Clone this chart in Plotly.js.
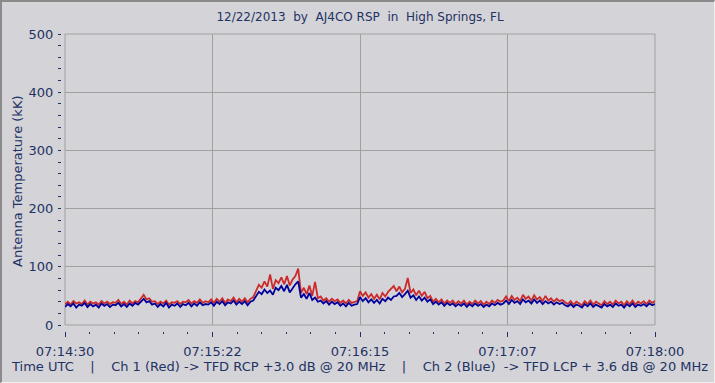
<!DOCTYPE html>
<html>
<head>
<meta charset="utf-8">
<script src="https://cdn.plot.ly/plotly-3.0.1.min.js"></script>
<style>
html,body{margin:0;padding:0;background:#D4D3D7;overflow:hidden;}
#frame{position:absolute;left:0;top:0;width:715px;height:383px;box-sizing:border-box;border-top:2px solid #8A8A8A;border-left:2px solid #8A8A8A;border-bottom:1px solid #F0F0F0;border-right:1px solid #F0F0F0;pointer-events:none;z-index:10;}
#chart{position:absolute;left:0;top:0;width:715px;height:383px;}
</style>
</head>
<body>
<div id="chart"></div>
<div id="frame"></div>
<script>
// Time axis: seconds after 07:14:30 UTC (one sample per second, 0..210)
var tickSeconds = [0, 52.5, 105, 157.5, 210];
var tickLabels = ["07:14:30", "07:15:22", "07:16:15", "07:17:07", "07:18:00"];

// Ch 1 (Red) antenna temperature, kK
var ch1Red = [
36,40,35,41,37,39,36,42,35,40,37,39,35,41,37,40,36,39,38,43,36,40,35,42,37,41,39,45,
52,44,46,40,41,
36,40,37,42,35,39,38,41,36,40,39,43,37,41,38,44,38,41,
39,44,38,45,40,46,38,44,41,47,39,45,40,46,39,45,48,
60,69,64,75,66,87,62,77,
72,82,70,84,68,78,84,97,
55,64,53,68,50,74,46,
49,42,46,40,45,41,44,38,42,37,43,38,40,
41,58,50,56,47,53,45,52,44,55,49,57,62,67,
58,66,56,62,81,
55,61,51,59,50,57,46,50,
40,45,39,44,37,42,38,42,36,41,37,42,35,40,36,42,37,41,35,40,36,42,38,43,40,
42,49,41,50,43,47,41,52,45,49,42,51,44,48,41,50,42,46,40,45,41,43,39,
36,41,35,40,37,34,41,36,42,35,40,37,34,41,36,40,35,42,37,40,34,41,36,42,35,40,37,41,36,42,38,41
];

// Ch 2 (Blue) antenna temperature, kK
var ch2Blue = [
31,36,32,37,30,35,33,38,31,36,32,35,30,37,33,36,31,35,34,38,32,36,31,37,33,38,35,40,
45,39,41,35,37,
31,36,32,38,30,35,33,37,31,36,34,38,32,37,33,39,34,36,
35,39,33,40,36,41,34,39,37,42,35,40,36,41,34,40,42,
50,57,53,61,55,59,52,64,
60,67,58,69,56,64,70,75,
47,53,45,55,43,47,40,
42,37,41,35,40,36,39,33,37,32,38,33,35,
36,48,41,46,39,44,38,43,37,45,41,47,43,49,
50,55,48,53,59,
47,51,43,49,42,47,40,44,
36,40,35,39,33,38,34,37,32,36,33,37,31,36,32,37,33,36,31,35,32,37,34,38,35,
37,42,36,43,38,41,36,44,39,42,37,44,38,42,36,41,37,40,35,39,36,38,34,
32,36,31,35,33,30,36,32,37,31,35,33,30,36,32,35,31,37,33,35,30,36,32,37,31,35,33,36,32,37,34,36
];

var timeRed = ch1Red.map(function(_, i){ return i; });
var timeBlue = ch2Blue.map(function(_, i){ return i; });

var W = 715, H = 383;
var ml = 20, mr = 60, mt = 34, mb = 43;
var pw = W - ml - mr, ph = H - mt - mb;
var plotLeft = 65, plotBottom = 325;
var xd0 = (plotLeft - ml) / pw;
var yd0 = (H - mb - plotBottom) / ph;

var navy = '#1E3264';
var fontFam = 'DejaVu Sans, Verdana, sans-serif';
var bg = '#D4D3D7';

var traces = [
  {x: timeRed, y: ch1Red, type: 'scatter', mode: 'lines', line: {color: '#CC2A2A', width: 1.8}, hoverinfo: 'skip', showlegend: false},
  {x: timeBlue, y: ch2Blue, type: 'scatter', mode: 'lines', line: {color: '#00009A', width: 1.8}, hoverinfo: 'skip', showlegend: false}
];

var layout = {
  width: W, height: H,
  margin: {l: ml, r: mr, t: mt, b: mb, pad: 0},
  paper_bgcolor: bg,
  plot_bgcolor: bg,
  font: {family: fontFam, size: 13, color: navy},
  title: {text: '12/22/2013  by  AJ4CO RSP  in  High Springs, FL', xref: 'container', x: 360/715, xanchor: 'center', yref: 'container', y: 1 - 17/383, yanchor: 'middle', font: {family: fontFam, size: 12, color: navy}},
  xaxis: {
    domain: [xd0, 1], range: [0, 210], anchor: 'free', position: (H - mb - 331) / ph,
    tickvals: tickSeconds, ticktext: tickLabels,
    ticks: 'outside', ticklen: 5, tickwidth: 1, tickcolor: navy,
    ticklabelstandoff: 3,
    minor: {dtick: 52.5/6, tick0: 0, ticks: 'outside', ticklen: 2, tickwidth: 1, tickcolor: navy, showgrid: false},
    showgrid: true, gridcolor: '#A0A0A0', gridwidth: 1,
    showline: false, zeroline: false,
    tickfont: {family: fontFam, size: 13, color: navy}
  },
  yaxis: {
    domain: [yd0, 1], range: [0, 500], anchor: 'free', position: (61 - ml) / pw,
    tickvals: [0, 100, 200, 300, 400, 500],
    ticks: 'outside', ticklen: 2, tickwidth: 1, tickcolor: navy,
    ticklabelstandoff: 3,
    minor: {dtick: 20, ticks: 'outside', ticklen: 3, tickwidth: 1, tickcolor: navy, showgrid: false},
    showgrid: true, gridcolor: '#A0A0A0', gridwidth: 1,
    showline: false, zeroline: false,
    tickfont: {family: fontFam, size: 13, color: navy}
  },
  shapes: [
    {type: 'rect', xref: 'x domain', yref: 'y domain', x0: 0, x1: 1, y0: 0, y1: 1, line: {color: '#A0A0A0', width: 1}, layer: 'below'}
  ],
  annotations: [
    {text: 'Antenna Temperature (kK)', textangle: -90, xref: 'paper', yref: 'paper', x: (18 - ml) / pw, y: (H - mb - 182) / ph, xanchor: 'center', yanchor: 'middle', showarrow: false, font: {family: fontFam, size: 13, color: navy}},
    {text: 'Time UTC    |    Ch 1 (Red) -> TFD RCP +3.0 dB @ 20 MHz    |    Ch 2 (Blue)  -> TFD LCP + 3.6 dB @ 20 MHz', xref: 'paper', yref: 'paper', x: (359 - ml) / pw, y: (H - mb - 366) / ph, xanchor: 'center', yanchor: 'middle', showarrow: false, font: {family: fontFam, size: 13, color: navy}}
  ]
};

Plotly.newPlot('chart', traces, layout, {staticPlot: true, displayModeBar: false});
</script>
</body>
</html>
